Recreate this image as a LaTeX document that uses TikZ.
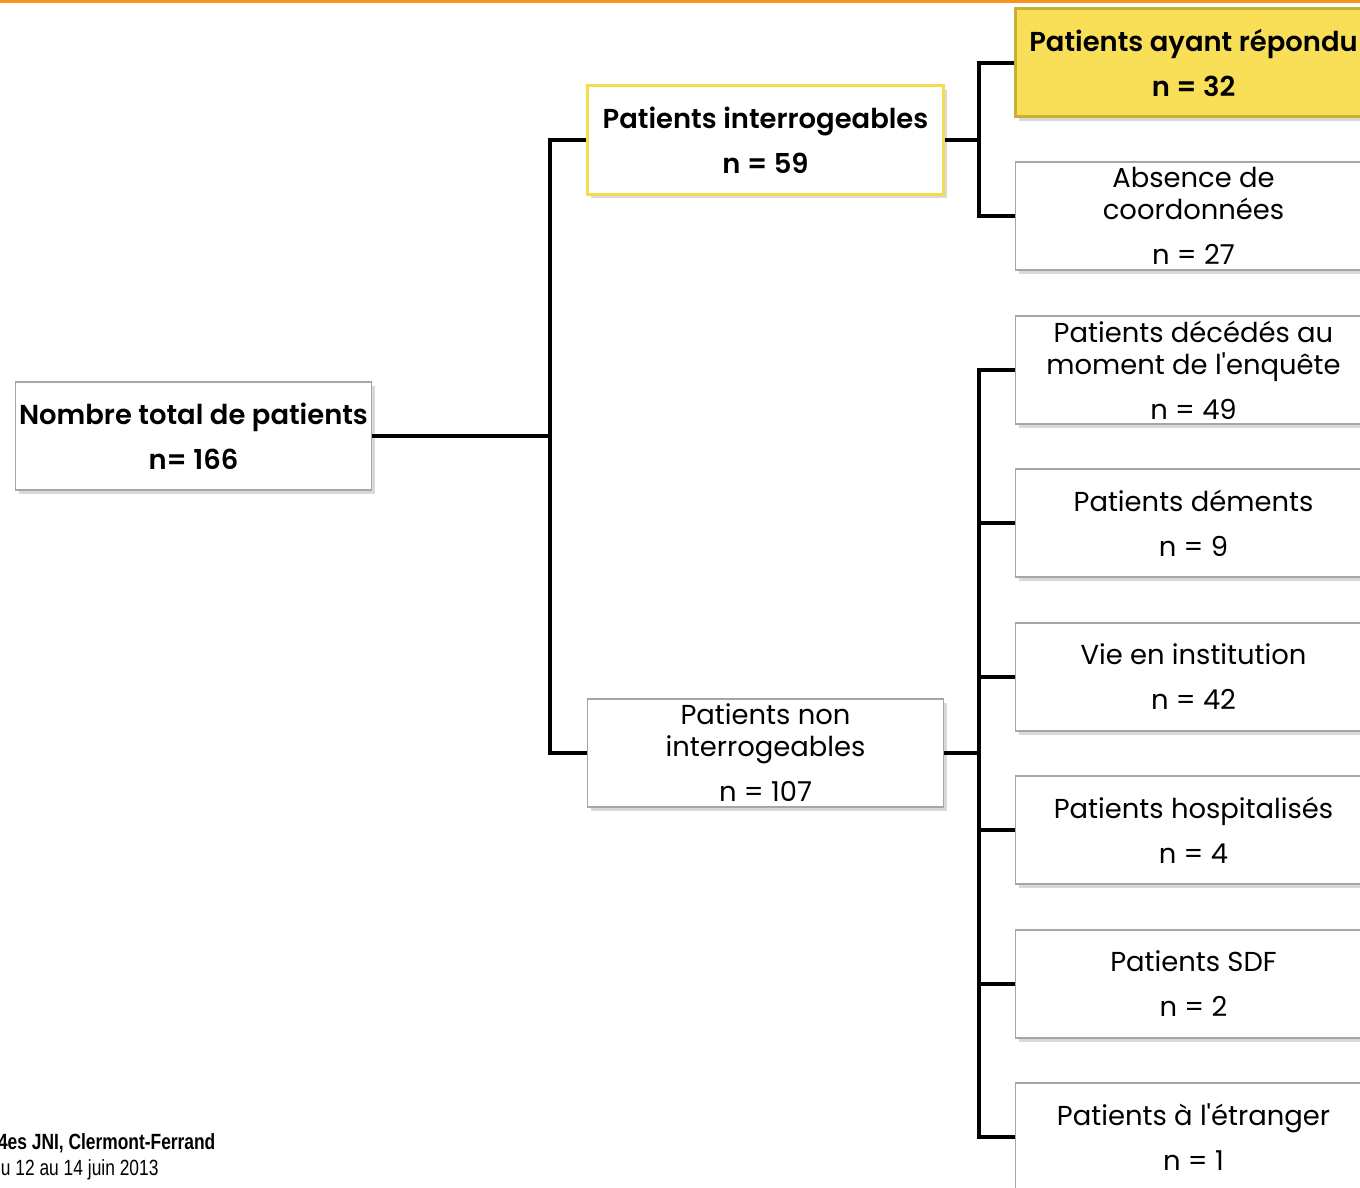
\documentclass[tikz,border=0pt]{standalone}
\usepackage{fontspec}
\setmainfont{Poppins}[BoldFont={Poppins SemiBold}]
\newfontfamily\narrowfont[FakeStretch=0.79]{Liberation Sans}
\usetikzlibrary{shadows}

\definecolor{jniorange}{HTML}{F7941D}
\definecolor{boxgray}{HTML}{A6A6A6}
\definecolor{hiyellow}{HTML}{F9DF57}
\definecolor{hiborder}{HTML}{C9B035}
\definecolor{lightborder}{HTML}{F3DC4E}

\begin{document}
\begin{tikzpicture}[x=0.5pt, y=-0.5pt]
\tikzset{
  box/.style={draw=boxgray, line width=0.8pt, fill=white, align=center,
    minimum width=178pt, minimum height=54pt, inner sep=0pt,
    font=\fontsize{13.7}{16}\selectfont,
    drop shadow={shadow xshift=1.5pt, shadow yshift=-2pt, opacity=0.3}},
  keybox/.style={box, draw=lightborder, line width=1.5pt},
  answerbox/.style={box, fill=hiyellow, draw=hiborder, line width=1.5pt},
  link/.style={line width=2pt, black}
}
\pgfmathsetmacro{\colx}{1193.5}
\useasboundingbox (0,0) rectangle (1360,1188);

% orange rule on top
\fill[jniorange] (0,0) rectangle (1360,3);

\node[box] (total) at (193.5,436) {\bfseries Nombre total de patients\\[6.5pt]\bfseries n= 166};

\node[keybox] (interro) at (765.5,140) {\bfseries Patients interrogeables\\[6.5pt]\bfseries n = 59};
\node[box] (noninterro) at (765.5,753) {Patients non\\interrogeables\\[6.5pt]n = 107};

\node[answerbox] (repondu) at (\colx,63) {\bfseries Patients ayant répondu\\[6.5pt]\bfseries n = 32};
\node[box] (absence) at (\colx,216) {Absence de\\coordonnées\\[6.5pt]n = 27};

\node[box] (deces) at (\colx,370) {Patients décédés au\\moment de l\textquotesingle enquête\\[6.5pt]n = 49};
\node[box] (dements) at (\colx,523) {Patients déments\\[6.5pt]n = 9};
\node[box] (institution) at (\colx,677) {Vie en institution\\[6.5pt]n = 42};
\node[box] (hospit) at (\colx,830) {Patients hospitalisés\\[6.5pt]n = 4};
\node[box] (sdf) at (\colx,984) {Patients SDF\\[6.5pt]n = 2};
\node[box] (etranger) at (\colx,1137) {Patients à l\textquotesingle étranger\\[6.5pt]n = 1};

\coordinate (trunkA) at (550,0);
\coordinate (trunkB) at (979,0);

\draw[link] (total.east) -- (total.east -| trunkA);
\draw[link] (interro.west) -| (trunkA |- noninterro.west) -- (noninterro.west);

\draw[link] (interro.east) -- (interro.east -| trunkB);
\draw[link] (repondu.west) -| (trunkB |- absence.west) -- (absence.west);

\draw[link] (noninterro.east) -- (noninterro.east -| trunkB);
\draw[link] (deces.west) -| (trunkB |- etranger.west) -- (etranger.west);
\foreach \n in {dements,institution,hospit,sdf}
  \draw[link] (\n.west) -- (\n.west -| trunkB);

\node[anchor=base west, align=left, inner sep=0pt, font=\narrowfont\fontsize{11}{13}\selectfont] (jni) at (-12,1175)
  {\bfseries 14es JNI, Clermont-Ferrand\\Du 12 au 14 juin 2013};
\end{tikzpicture}
\end{document}
